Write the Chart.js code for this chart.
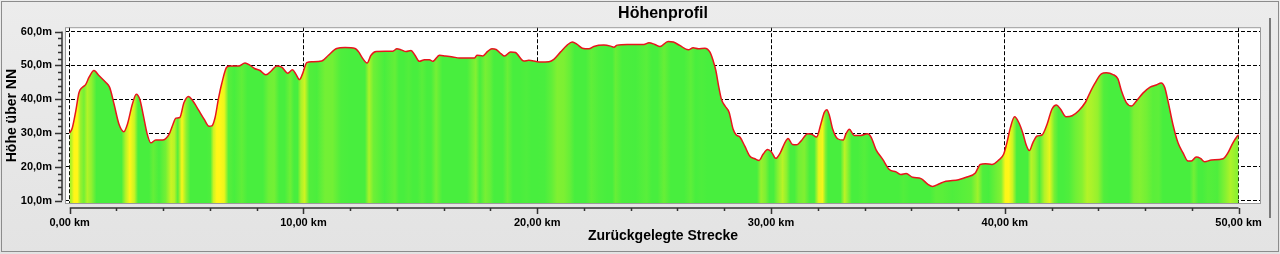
<!DOCTYPE html>
<html lang="de">
<head>
<meta charset="utf-8">
<title>Höhenprofil</title>
<script src="https://cdn.jsdelivr.net/npm/chart.js@4.4.1/dist/chart.umd.min.js"></script>
<style>
  html, body { margin: 0; padding: 0; background: #e8e8e8; }
  #wrap { width: 1280px; height: 254px; }
</style>
</head>
<body>
<div id="wrap"><canvas id="profile" width="1280" height="254"></canvas></div>
<script>
'use strict';

/* Profile */
const distanceKm = [
  0.00, 0.11, 0.26, 0.40, 0.54, 0.68, 0.83, 1.04, 1.25, 1.54, 1.71, 1.90, 2.11, 2.32, 2.47, 2.68, 2.85, 3.00,
  3.14, 3.32, 3.47, 3.68, 3.97, 4.25, 4.42, 4.54, 4.71, 4.89, 5.08, 5.25, 5.53, 5.75, 5.96, 6.08, 6.22, 6.36,
  6.50, 6.72, 6.86, 7.22, 7.50, 7.72, 7.93, 8.14, 8.39, 8.64, 8.86, 9.07, 9.33, 9.53, 9.67, 9.83, 9.96, 10.14,
  10.36, 10.78, 11.07, 11.42, 11.78, 12.21, 12.36, 12.54, 12.72, 12.89, 13.11, 13.82, 14.00, 14.18, 14.39, 14.60,
  14.77, 14.96, 15.18, 15.39, 15.53, 15.82, 16.06, 16.39, 16.67, 17.32, 17.42, 17.67, 17.89, 18.06, 18.24, 18.46,
  18.60, 18.86, 19.07, 19.43, 19.64, 19.86, 20.14, 20.50, 20.71, 21.00, 21.28, 21.50, 21.71, 21.93, 22.21, 22.42,
  22.85, 23.14, 23.28, 23.42, 23.85, 24.56, 24.78, 25.03, 25.25, 25.60, 25.82, 26.10, 26.46, 26.67, 26.89, 27.17,
  27.39, 27.52, 27.64, 27.77, 27.88, 28.03, 28.21, 28.38, 28.52, 28.67, 28.88, 29.09, 29.31, 29.49, 29.66, 29.85,
  30.02, 30.20, 30.40, 30.59, 30.73, 30.92, 31.09, 31.28, 31.57, 31.75, 31.95, 32.13, 32.28, 32.39, 32.49, 32.64,
  32.85, 33.09, 33.21, 33.35, 33.56, 33.85, 34.13, 34.28, 34.49, 34.78, 35.06, 35.35, 35.56, 35.78, 36.06, 36.42,
  36.70, 36.91, 37.20, 37.48, 38.02, 38.38, 38.74, 38.95, 39.17, 39.45, 39.74, 39.95, 40.09, 40.24, 40.42, 40.60,
  40.78, 40.91, 41.05, 41.20, 41.38, 41.59, 41.81, 42.02, 42.21, 42.38, 42.62, 42.88, 43.16, 43.45, 43.60, 43.84,
  44.13, 44.34, 44.63, 44.84, 44.99, 45.20, 45.42, 45.63, 45.91, 46.20, 46.48, 46.69, 46.84, 46.98, 47.19, 47.41,
  47.62, 47.84, 47.98, 48.19, 48.37, 48.55, 48.84, 49.34, 49.55, 49.76, 49.95, 50.00
];
const elevationM = [
  30.0, 31.5, 36.5, 42.0, 43.5, 44.3, 46.5, 48.5, 47.0, 45.0, 43.5, 38.5, 32.6, 30.4, 32.6, 38.5, 41.5, 40.0,
  35.6, 29.6, 27.1, 27.9, 27.9, 29.6, 32.6, 34.4, 34.6, 39.0, 40.8, 39.7, 36.6, 34.1, 32.0, 32.1, 34.6, 40.0,
  44.5, 49.5, 49.8, 49.8, 50.7, 50.0, 49.0, 48.5, 47.2, 48.5, 49.8, 49.5, 47.7, 48.7, 47.5, 45.8, 47.5, 50.8,
  51.1, 51.3, 53.0, 55.0, 55.3, 55.0, 54.0, 52.0, 50.7, 53.0, 54.1, 54.2, 54.9, 54.6, 54.1, 54.4,
  53.0, 51.2, 51.7, 51.7, 51.2, 53.0, 52.8, 52.5, 52.2, 52.2, 53.0, 52.8, 54.2, 54.9, 54.7, 53.4,
  52.8, 54.0, 53.8, 51.3, 51.5, 51.3, 51.0, 51.1, 51.8, 54.0, 56.0, 56.9, 56.2, 55.1, 54.9, 55.6,
  56.0, 55.7, 55.4, 56.0, 56.2, 56.2, 56.7, 56.2, 55.6, 57.1, 56.9, 55.9, 54.6, 55.2, 54.9, 55.1,
  53.9, 51.5, 48.5, 43.5, 40.0, 38.0, 36.1, 31.1, 29.4, 28.8, 26.1, 23.2, 22.4, 21.9, 23.7, 25.1,
  24.4, 22.5, 24.2, 27.1, 28.4, 26.6, 26.5, 27.6, 29.8, 29.6, 28.8, 32.6, 36.1, 36.9, 35.4, 31.1,
  28.3, 27.9, 29.8, 31.1, 29.3, 29.3, 29.8, 28.8, 25.1, 22.2, 19.2, 18.5, 17.7, 18.0, 16.9, 16.5,
  14.9, 14.2, 15.0, 15.7, 16.2, 17.0, 18.2, 20.7, 20.9, 20.7, 22.0, 23.7, 27.1, 31.6, 34.8, 33.1,
  29.8, 26.6, 24.8, 27.1, 29.1, 29.4, 32.6, 37.1, 38.3, 37.1, 34.8, 35.1, 36.6, 39.1, 41.3, 44.5,
  47.5, 47.8, 47.3, 46.0, 42.5, 39.0, 38.0, 39.5, 41.8, 43.5, 44.2, 44.8, 43.5, 39.5, 32.6, 27.1,
  24.2, 21.7, 21.7, 22.9, 22.5, 21.5, 22.0, 22.4, 24.2, 27.1, 29.1, 29.5
];

/* Axis ticks */
const xTicksKm = [0, 10, 20, 30, 40, 50];
const yTicksM = [10, 20, 30, 40, 50, 60];
const X_MINOR_STEP = 2;
const Y_MINOR_STEP = 2;

/* Look */
const FONT = '"Liberation Sans", Arial, sans-serif';
const FLAT_RGB = [72, 238, 62];
const CLIMB_RGB = [255, 246, 24];
const FULL_CLIMB = 25; // m per km that shows as pure yellow

/* Mix green -> yellow by uphill slope */
function slopeColour(slope) {
  const t = Math.max(0, Math.min(1, slope / FULL_CLIMB));
  const c = FLAT_RGB.map((v, i) => Math.round(v + (CLIMB_RGB[i] - v) * t));
  return `rgb(${c[0]},${c[1]},${c[2]})`;
}

/* Horizontal gradient with one stop per segment */
let cachedGradient = null;
let cachedKey = '';
function slopeGradient(chart) {
  const { ctx, chartArea, scales } = chart;
  const key = `${chartArea.left},${chartArea.right}`;
  if (cachedGradient && cachedKey === key) return cachedGradient;
  const first = distanceKm[0];
  const last = distanceKm[distanceKm.length - 1];
  const g = ctx.createLinearGradient(scales.x.getPixelForValue(first), 0, scales.x.getPixelForValue(last), 0);
  for (let i = 0; i < distanceKm.length - 1; i++) {
    const slope = (elevationM[i + 1] - elevationM[i]) / (distanceKm[i + 1] - distanceKm[i]);
    const mid = (distanceKm[i] + distanceKm[i + 1]) / 2;
    g.addColorStop((mid - first) / (last - first), slopeColour(slope));
  }
  cachedGradient = g;
  cachedKey = key;
  return g;
}

/* Background, window frame and white plot area */
const backdrop = {
  id: 'backdrop',
  beforeDraw(chart) {
    const { ctx, width, height, chartArea: a } = chart;
    ctx.save();
    const bg = ctx.createLinearGradient(0, 0, 0, height);
    bg.addColorStop(0, '#ececec');
    bg.addColorStop(1, '#e3e3e3');
    ctx.fillStyle = bg;
    ctx.fillRect(0, 0, width, height);
    ctx.strokeStyle = '#8c8c8c';
    ctx.lineWidth = 1;
    ctx.strokeRect(1.5, 1.5, width - 3, height - 4);
    ctx.fillStyle = '#7a7a7a';
    ctx.fillRect(1269, 18, 2, 200);
    ctx.fillStyle = '#ffffff';
    ctx.fillRect(a.left, a.top, a.right - a.left, a.bottom - a.top);
    ctx.restore();
  }
};

/* Axis lines with major and minor tick marks, set off from the plot frame */
const rulers = {
  id: 'rulers',
  afterDraw(chart) {
    const { ctx, chartArea: a, scales: { x, y } } = chart;
    ctx.save();
    ctx.strokeStyle = '#9a9a9a';
    ctx.lineWidth = 1;
    ctx.strokeRect(a.left + 0.5, a.top + 0.5, a.right - a.left - 1, a.bottom - a.top - 1);

    ctx.strokeStyle = '#333';
    ctx.lineWidth = 1.5;
    // x axis
    const xFirst = xTicksKm[0];
    const xLast = xTicksKm[xTicksKm.length - 1];
    const ax = a.bottom + 4;
    ctx.beginPath();
    ctx.moveTo(x.getPixelForValue(xFirst), ax);
    ctx.lineTo(x.getPixelForValue(xLast), ax);
    for (let v = xFirst; v <= xLast; v += X_MINOR_STEP) {
      const px = Math.round(x.getPixelForValue(v)) + 0.5;
      ctx.moveTo(px, ax);
      ctx.lineTo(px, ax + (v % 10 === 0 ? 6 : 3));
    }
    ctx.stroke();
    // y axis
    const yFirst = yTicksM[0];
    const yLast = yTicksM[yTicksM.length - 1];
    const ay = a.left - 3;
    ctx.beginPath();
    ctx.moveTo(ay, y.getPixelForValue(yFirst));
    ctx.lineTo(ay, y.getPixelForValue(yLast));
    for (let v = yFirst; v <= yLast; v += Y_MINOR_STEP) {
      const py = Math.round(y.getPixelForValue(v)) + 0.5;
      ctx.moveTo(ay, py);
      ctx.lineTo(ay - (v % 10 === 0 ? 7 : 4), py);
    }
    ctx.stroke();
    ctx.restore();
  }
};

const tickFont = { family: FONT, size: 11, weight: 'bold' };
const titleFont = { family: FONT, size: 14, weight: 'bold' };

new Chart(document.getElementById('profile'), {
  type: 'line',
  data: {
    datasets: [{
      label: 'Höhe',
      data: distanceKm.map((d, i) => ({ x: d, y: elevationM[i] })),
      borderColor: '#e8141c',
      borderWidth: 1.5,
      pointRadius: 0,
      cubicInterpolationMode: 'monotone',
      fill: 'start',
      backgroundColor: (c) => (c.chart.chartArea ? slopeGradient(c.chart) : slopeColour(0))
    }]
  },
  options: {
    responsive: false,
    animation: false,
    devicePixelRatio: 1,
    layout: { padding: { top: 0, left: 0, right: 19, bottom: 0 } },
    plugins: {
      legend: { display: false },
      tooltip: { enabled: false },
      title: {
        display: true,
        text: 'Höhenprofil',
        fullSize: false,
        color: '#000',
        font: { family: FONT, size: 16, weight: 'bold' },
        padding: { top: 4, bottom: 4 }
      }
    },
    scales: {
      x: {
        type: 'linear',
        min: -0.2,
        max: 50.96,
        z: 1,
        afterBuildTicks: (s) => { s.ticks = xTicksKm.map((v) => ({ value: v })); },
        afterFit: (s) => { s.height = 50; },
        grid: { color: '#000', lineWidth: 1, drawTicks: false },
        border: { display: false, dash: [4, 2] },
        ticks: {
          autoSkip: false,
          maxRotation: 0,
          padding: 12,
          color: '#000',
          font: tickFont,
          callback: (v) => `${v.toFixed(2).replace('.', ',')} km`
        },
        title: {
          display: true,
          text: 'Zurückgelegte Strecke',
          color: '#000',
          font: titleFont,
          padding: { top: 0, bottom: 9 }
        }
      },
      y: {
        min: 9.0,
        max: 61.3,
        z: 1,
        afterBuildTicks: (s) => { s.ticks = yTicksM.map((v) => ({ value: v })); },
        afterFit: (s) => { s.width = 65; },
        grid: { color: '#000', lineWidth: 1, drawTicks: false },
        border: { display: false, dash: [4, 2] },
        ticks: {
          autoSkip: false,
          padding: 13,
          color: '#000',
          font: tickFont,
          callback: (v) => `${v.toFixed(1).replace('.', ',')}m`
        },
        title: {
          display: true,
          text: 'Höhe über NN',
          color: '#000',
          font: { family: FONT, size: 14, weight: 'bold' },
          padding: { top: 4, bottom: 0 }
        }
      }
    }
  },
  plugins: [backdrop, rulers]
});
</script>
</body>
</html>
